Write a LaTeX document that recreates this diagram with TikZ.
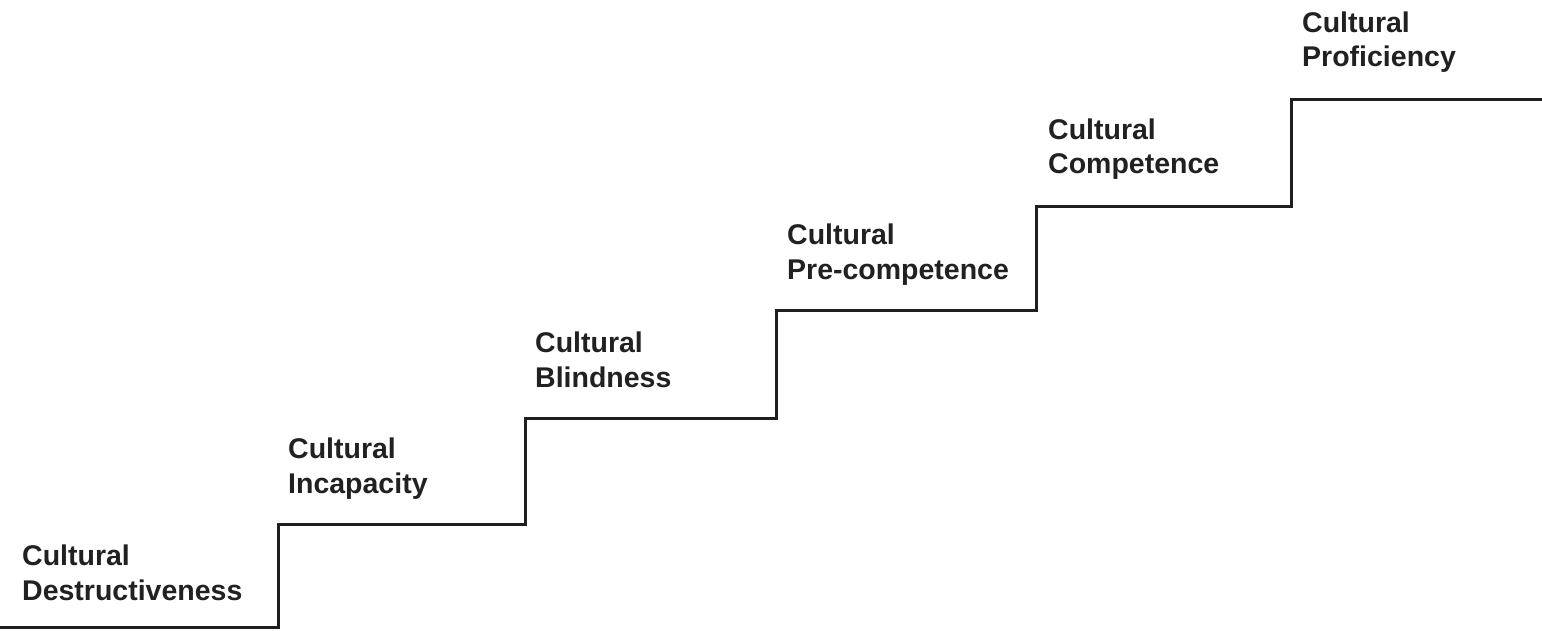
\documentclass[tikz,border=0pt]{standalone}
\usepackage{fontspec}
\setmainfont{Liberation Sans}
\begin{document}
\begin{tikzpicture}[x=1pt,y=-1pt,
  stair/.style={line width=3pt,draw=black!88,line join=miter,line cap=rect},
  lbl/.style={anchor=base west,inner sep=0pt,align=left,text=black!87,
    font=\fontsize{28.5}{34.5}\selectfont\bfseries}]
\useasboundingbox (0,0) rectangle (1542,631);
\draw[stair] (0,627) -- (278,627) -- (278,524) -- (525,524) -- (525,418)
  -- (776,418) -- (776,310) -- (1036,310) -- (1036,207) -- (1291,207)
  -- (1291,100) -- (1542,100);
\node[lbl] (l1) at (22,600) {Cultural\\Destructiveness};
\node[lbl] (l2) at (288,493) {Cultural\\Incapacity};
\node[lbl] (l3) at (535,387) {Cultural\\Blindness};
\node[lbl] (l4) at (787,279) {Cultural\\Pre-competence};
\node[lbl] (l5) at (1048,174) {Cultural\\Competence};
\node[lbl] (l6) at (1302,67) {Cultural\\Proficiency};
\end{tikzpicture}
\end{document}
